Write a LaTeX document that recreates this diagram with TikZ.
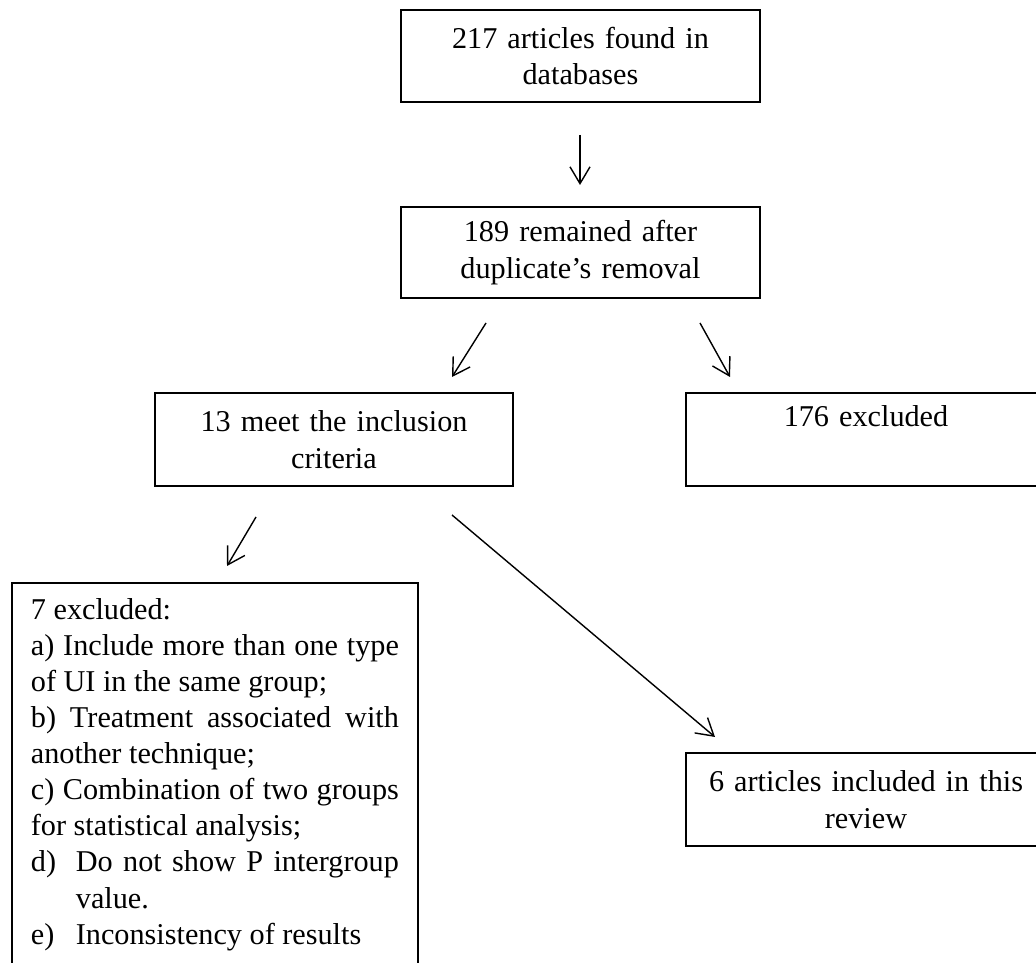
\documentclass[tikz,border=0pt]{standalone}
\usepackage{fontspec}
\setmainfont{Liberation Serif}
\usetikzlibrary{arrows.meta}

\begin{document}
\begin{tikzpicture}[
    stage/.style={draw, line width=1.3pt, text width=8.4cm, align=center, inner sep=0pt, font=\fontsize{21.5}{26}\selectfont},
    flow/.style={line width=1pt, -{Straight Barb[length=0.42cm,width=0.5cm]}}
  ]
  \useasboundingbox (0,0) rectangle (25.9,24.05);
  \clip (0,0) rectangle (25.9,24.05);

  % boxes
  \node [stage, minimum width=8.975cm, minimum height=2.3cm] (found) at (14.5125,22.65) {217 articles found in\\databases};
  \node [stage, minimum width=8.975cm, minimum height=2.275cm] (remained) at (14.5125,17.7375) {189 remained after\\duplicate’s removal};
  \node [stage, minimum width=8.95cm, minimum height=2.325cm] (meet) at (8.35,13.0625) {13 meet the inclusion\\criteria};
  \node [stage, minimum width=9cm, minimum height=2.325cm] (excluded) at (21.65,13.0625) {176 excluded\\\strut};
  \node [stage, minimum width=9cm, minimum height=2.325cm] (included) at (21.65,4.0625) {6 articles included in this\\review};
  \node [draw, line width=1.3pt, anchor=north west, text width=9.2cm, align=justify, inner xsep=0.475cm, inner ysep=0.38cm, font=\fontsize{21.5}{25.7}\selectfont] (reasons) at (0.275,9.5) {%
    7 excluded:\par
    a) Include more than one type\linebreak of UI in the same group;\par
    b) Treatment associated with\linebreak another technique;\par
    c) Combination of two groups\linebreak for statistical analysis;\par
    \hangindent=1.125cm\hangafter=1\makebox[1.125cm][l]{d)}Do not show P intergroup\linebreak value.\par
    \hangindent=1.125cm\hangafter=1\makebox[1.125cm][l]{e)}Inconsistency of results\par
    \vspace{0.4cm}};

  % arrows
  \coordinate (a1s) at (14.5,20.675);
  \coordinate (a1e) at (14.5,19.425);
  \coordinate (a2s) at (12.15,15.975);
  \coordinate (a2e) at (11.3,14.625);
  \coordinate (a3s) at (17.5,15.975);
  \coordinate (a3e) at (18.25,14.625);
  \coordinate (a4s) at (6.4,11.125);
  \coordinate (a4e) at (5.675,9.9);
  \coordinate (a5s) at (11.3,11.175);
  \coordinate (a5e) at (17.875,5.625);
  \draw [flow] (a1s) -- (a1e);
  \draw [flow] (a2s) -- (a2e);
  \draw [flow] (a3s) -- (a3e);
  \draw [flow] (a4s) -- (a4e);
  \draw [flow] (a5s) -- (a5e);
\end{tikzpicture}
\end{document}
